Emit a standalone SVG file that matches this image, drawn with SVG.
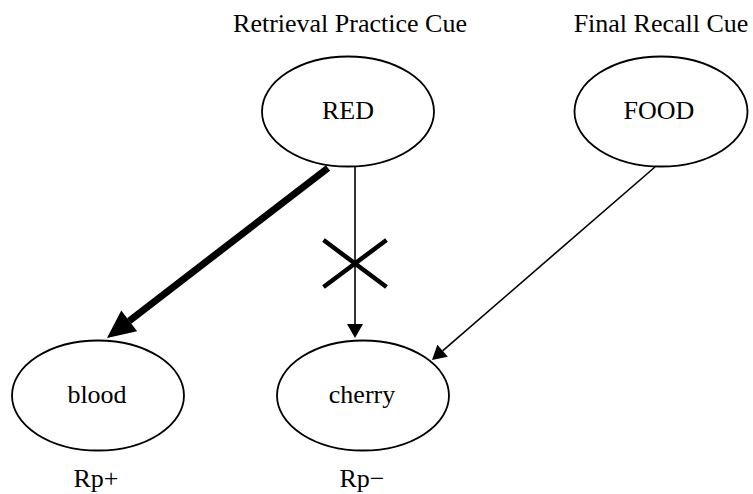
<svg xmlns="http://www.w3.org/2000/svg" width="753" height="494" viewBox="0 0 753 494">
<style>
text{font-family:"Liberation Serif","Times New Roman",serif;font-size:26px;fill:#000;text-anchor:middle}
.node ellipse{fill:#fff;stroke:#000;stroke-width:1.8}
.thin{stroke:#000;stroke-width:1.6;fill:none}
.thick{stroke:#000;stroke-width:7;fill:none}
</style>
<defs>
<marker id="ah" markerUnits="userSpaceOnUse" markerWidth="14" markerHeight="16" refX="0" refY="8" orient="auto" overflow="visible">
<path d="M0,0 L14,8 L0,16 Z" fill="#000"/>
</marker>
<marker id="ahBig" markerUnits="userSpaceOnUse" markerWidth="28" markerHeight="26" refX="0" refY="13" orient="auto" overflow="visible">
<path d="M0,0 L28,13 L0,26 Z" fill="#000"/>
</marker>
</defs>
<g id="labels">
<text x="350" y="32">Retrieval Practice Cue</text>
<text x="661" y="32">Final Recall Cue</text>
<text x="96" y="487">Rp+</text>
<text x="362" y="487">Rp−</text>
</g>
<g id="node-red" class="node"><ellipse cx="348" cy="111.5" rx="86" ry="55"/><text x="348" y="119">RED</text></g>
<g id="node-food" class="node"><ellipse cx="661" cy="111.5" rx="86.5" ry="55"/><text x="659" y="119">FOOD</text></g>
<g id="node-blood" class="node"><ellipse cx="98" cy="395.5" rx="86" ry="55"/><text x="97" y="403">blood</text></g>
<g id="node-cherry" class="node"><ellipse cx="363" cy="395.5" rx="86" ry="55"/><text x="362" y="403">cherry</text></g>
<g id="connectors">
<line class="thick" x1="328" y1="168" x2="129.2" y2="320.9" marker-end="url(#ahBig)"/>
<line class="thin" x1="355" y1="167" x2="355" y2="324" marker-end="url(#ah)"/>
<line class="thin" x1="655" y1="167" x2="442.6" y2="350.8" marker-end="url(#ah)"/>
<path d="M323.5,240 L386.5,287 M386.5,240 L323.5,287" stroke="#000" stroke-width="4.5" fill="none"/>
</g>
</svg>
